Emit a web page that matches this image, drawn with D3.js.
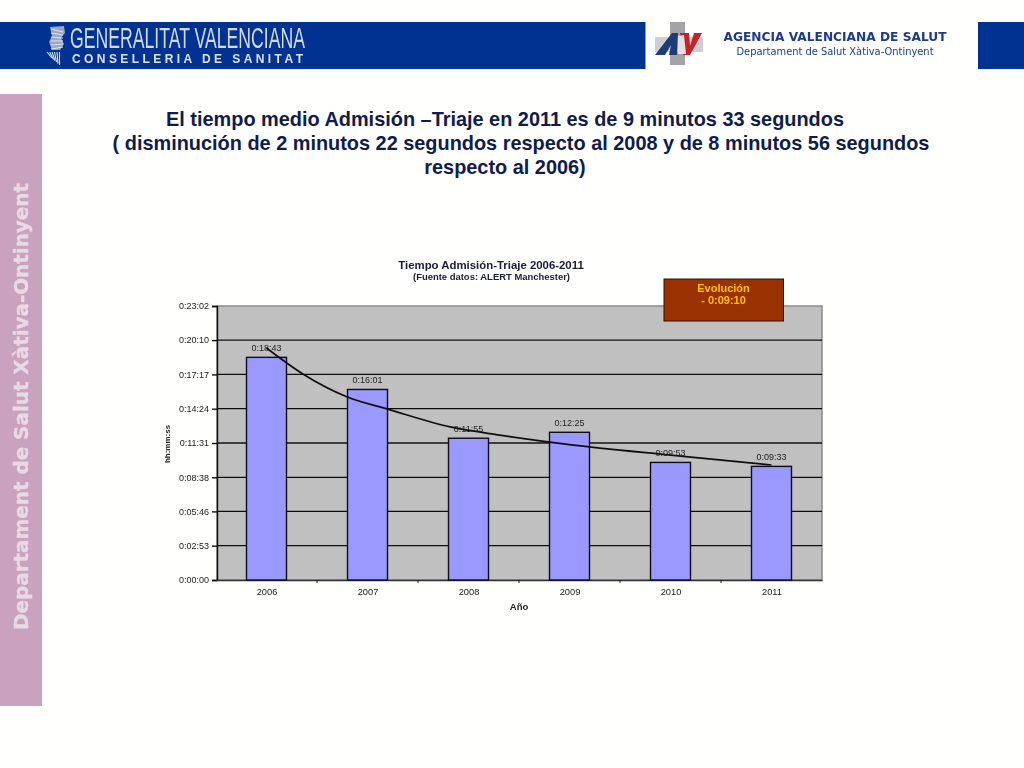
<!DOCTYPE html>
<html><head><meta charset="utf-8">
<script src="https://cdnjs.cloudflare.com/ajax/libs/d3/7.8.5/d3.min.js"></script>
<style>html,body{margin:0;padding:0;background:#fffffd;overflow:hidden}svg{display:block}text{font-family:"Liberation Sans",Arial,sans-serif}</style>
</head><body><svg id="c" width="1024" height="768"></svg>
<script>
const years=["2006","2007","2008","2009","2010","2011"];
const seconds=[1123,961,715,745,593,573];
const barLabels=["0:18:43","0:16:01","0:11:55","0:12:25","0:09:53","0:09:33"];
const trendPositions=[0,0.36,0.8,1.2,1.82,2.31,3,4,5];
const trendSeconds=[1170,1039,923,862,772,731,683,630,580];
const tickSeconds=[0,173,346,518,691,864,1037,1210,1382];
const tickLabels=["0:00:00","0:02:53","0:05:46","0:08:38","0:11:31","0:14:24","0:17:17","0:20:10","0:23:02"];
const titleLines=[
 "El tiempo medio Admisión –Triaje en 2011 es de 9 minutos 33 segundos",
 "( disminución de 2 minutos 22 segundos respecto al 2008 y de 8 minutos 56 segundos",
 "respecto al 2006)"];
const titleCentres=[505,521,505];
const titleBaselines=[126,149.5,173.5];

const svg=d3.select("#c");
const defs=svg.append("defs");
defs.append("filter").attr("id","soft").attr("x","-5%").attr("y","-5%").attr("width","110%").attr("height","110%")
 .append("feGaussianBlur").attr("stdDeviation",0.4);
// header
const head=svg.append("g").attr("filter","url(#soft)");
head.append("rect").attr("x",0).attr("y",22).attr("width",645.5).attr("height",47).attr("fill","#003092");
head.append("rect").attr("x",978).attr("y",22).attr("width",46).attr("height",47).attr("fill","#003092");
// crest
head.append("path").attr("d","M50 27 L64 26 L65 33 L61 38 L64 44 L60 50 L52 50 L49 42 L52 36 Z").attr("fill","#9aa5c8");
const crest=head.append("g").attr("stroke","#dfe2ec").attr("fill","none").attr("stroke-width",1.1);
d3.range(0,6).forEach(i=>crest.append("line").attr("x1",51).attr("x2",63).attr("y1",29+i*4).attr("y2",32+i*3));
d3.range(0,6).forEach(i=>crest.append("line").attr("x1",47+i*2.5).attr("x2",52+i*1.5).attr("y1",52).attr("y2",58+i*1.4));
head.append("text").attr("x",70).attr("y",48).attr("font-size",29).attr("fill","#d5daea")
 .style("font-family","'Liberation Sans Narrow','Liberation Sans'").attr("textLength",235).attr("lengthAdjust","spacingAndGlyphs").text("GENERALITAT VALENCIANA");
head.append("text").attr("x",72).attr("y",63).attr("font-size",12).attr("font-weight",700).attr("fill","#dfe2ec")
 .attr("textLength",231).text("CONSELLERIA DE SANITAT");
// AV logo
head.append("rect").attr("x",670).attr("y",22).attr("width",15).attr("height",43).attr("fill","#a3a3a8");
head.append("rect").attr("x",655).attr("y",37).attr("width",48).attr("height",15).attr("fill","#cfcfd3");
head.append("path").attr("d","M655 55 L672 33 L678 33 L677 55 L669 55 L671 45 L665 55 Z").attr("fill","#1d3c78");
head.append("path").attr("d","M680 33 L689 33 L690 46 L694 33 L702 33 L690 55 L683 55 Z").attr("fill","#c5202e");
head.append("path").attr("d","M678 36 L684 35 L685 44 L686 54 L678 54 Z").attr("fill","#e9dfe0");
head.append("text").attr("x",835).attr("y",41).attr("text-anchor","middle").attr("font-size",12.5).attr("font-weight",700).attr("fill","#1f3a8a")
 .style("font-family","'DejaVu Sans'").attr("textLength",223).attr("lengthAdjust","spacingAndGlyphs").text("AGENCIA VALENCIANA DE SALUT");
head.append("text").attr("x",835).attr("y",55).attr("text-anchor","middle").attr("font-size",10.5).attr("fill","#1f3a8a")
 .style("font-family","'DejaVu Sans'").attr("textLength",197).attr("lengthAdjust","spacingAndGlyphs").text("Departament de Salut Xàtiva-Ontinyent");
// sidebar
svg.append("rect").attr("x",0).attr("y",94).attr("width",42).attr("height",612).attr("fill","#c9a2bd");
svg.append("text").attr("transform","translate(28,630) rotate(-90)").attr("font-size",20).attr("font-weight",700)
 .style("font-family","'DejaVu Sans'").attr("fill","#e8dae4").attr("stroke","#e8dae4").attr("stroke-width",0.3)
 .attr("filter","url(#soft)").attr("textLength",447).attr("lengthAdjust","spacingAndGlyphs").text("Departament de Salut Xàtiva-Ontinyent");
// slide title
titleLines.forEach((l,i)=>{
 svg.append("text").attr("x",titleCentres[i]).attr("y",titleBaselines[i]).attr("text-anchor","middle").attr("font-size",19.9).attr("font-weight",700).attr("fill","#0f1c4d").text(l);
});
// chart
const M={l:217,r:822,t:306,b:580};
const band=d3.scalePoint().domain(years).range([216,822]).padding(0.5);
const y=d3.scaleLinear().domain([0,1382]).range([M.b,M.t]);
const trendX=d3.scaleLinear().domain([0,5]).range([band(years[0]),band(years[5])]);
const chart=svg.append("g").attr("filter","url(#soft)");
chart.append("text").attr("x",491).attr("y",269).attr("text-anchor","middle").attr("font-size",11.4).attr("font-weight",700).attr("fill","#1a1a3a").text("Tiempo Admisión-Triaje 2006-2011");
chart.append("text").attr("x",491.5).attr("y",280).attr("text-anchor","middle").attr("font-size",9).attr("font-weight",700).attr("fill","#1a1a3a").attr("textLength",157).attr("lengthAdjust","spacingAndGlyphs").text("(Fuente datos: ALERT Manchester)");
chart.append("rect").attr("x",M.l).attr("y",M.t).attr("width",M.r-M.l).attr("height",M.b-M.t).attr("fill","#c0c0c0").attr("stroke","#8a8a8a").attr("stroke-width",1.5);
chart.append("g").selectAll("line").data(tickSeconds.slice(1,-1)).join("line")
 .attr("x1",M.l).attr("x2",M.r).attr("y1",d=>y(d)).attr("y2",d=>y(d)).attr("stroke","#111").attr("stroke-width",1.3);
const yAxis=d3.axisLeft(y).tickValues(tickSeconds).tickFormat((d,i)=>tickLabels[i]).tickSize(5).tickPadding(3);
const yg=chart.append("g").attr("transform",`translate(${M.l},0)`).call(yAxis);
yg.selectAll("text").attr("font-size",9).attr("fill","#222").style("font-family","'Liberation Sans'");
yg.selectAll("path,line").attr("stroke","#111").attr("stroke-width",1.4);
const xAxis=d3.axisBottom(band).tickSize(0).tickPadding(8);
const xg=chart.append("g").attr("transform",`translate(0,${M.b})`).call(xAxis);
xg.selectAll("text").attr("font-size",9.3).attr("fill","#222").style("font-family","'Liberation Sans'");
xg.selectAll("path").attr("stroke","#333").attr("stroke-width",1.5);
chart.append("g").selectAll("line").data(years.slice(0,-1)).join("line").attr("x1",d=>band(d)+band.step()/2).attr("x2",d=>band(d)+band.step()/2).attr("y1",M.b).attr("y2",M.b+3).attr("stroke","#111");
chart.append("g").selectAll("rect").data(years).join("rect")
 .attr("x",d=>band(d)-20).attr("width",40).attr("y",(d,i)=>y(seconds[i])).attr("height",(d,i)=>M.b-y(seconds[i]))
 .attr("fill","#9999ff").attr("stroke","#0a0a14").attr("stroke-width",1.4);
chart.append("g").selectAll("text").data(years).join("text").attr("x",d=>band(d)).attr("y",(d,i)=>y(seconds[i])-6)
 .attr("text-anchor","middle").attr("font-size",9).attr("fill","#222").text((d,i)=>barLabels[i]);
const line=d3.line().x((d,i)=>trendX(trendPositions[i])).y(d=>y(d)).curve(d3.curveMonotoneX);
chart.append("path").attr("d",line(trendSeconds)).attr("fill","none").attr("stroke","#111").attr("stroke-width",1.7);
chart.append("text").attr("transform",`translate(170,444) rotate(-90)`).attr("text-anchor","middle").attr("font-size",8).attr("font-weight",700).attr("fill","#222").text("hh:mm:ss");
chart.append("text").attr("x",519).attr("y",610).attr("text-anchor","middle").attr("font-size",9.5).attr("font-weight",700).attr("fill","#222").text("Año");
// box
chart.append("rect").attr("x",664).attr("y",279).attr("width",119.5).attr("height",42).attr("fill","#993300").attr("stroke","#2a1008").attr("stroke-width",1);
chart.append("text").attr("x",723.5).attr("y",292).attr("text-anchor","middle").attr("font-size",11).attr("font-weight",700).attr("fill","#ffc000").text("Evolución");
chart.append("text").attr("x",723.5).attr("y",304).attr("text-anchor","middle").attr("font-size",11).attr("font-weight",700).attr("fill","#ffc000").text("- 0:09:10");
</script></body></html>
